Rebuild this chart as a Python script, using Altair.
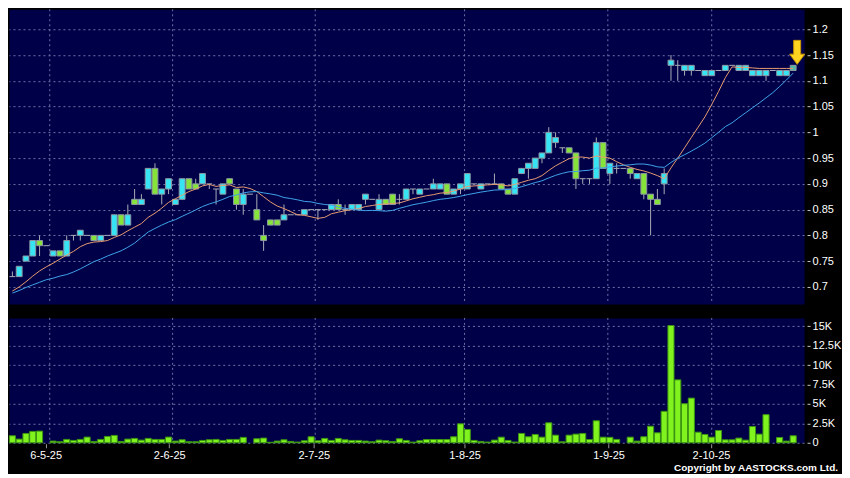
import json
import altair as alt
import numpy as np
import pandas as pd

# ---------------- data ----------------
opens = [0.72, 0.72, 0.75, 0.76, 0.79, 0.78, 0.76, 0.77, 0.76, 0.80,
         0.80, 0.80, 0.80, 0.79, 0.80, 0.80, 0.84, 0.82, 0.87, 0.86,
         0.89, 0.93, 0.88, 0.89, 0.86, 0.87, 0.91, 0.90, 0.90, 0.90,
         0.89, 0.88, 0.91, 0.89, 0.86, 0.88, 0.85, 0.80, 0.83, 0.83,
         0.83, 0.84, 0.84, 0.84, 0.85, 0.85, 0.85, 0.85, 0.86, 0.85,
         0.85, 0.85, 0.87, 0.87, 0.85, 0.87, 0.88, 0.87, 0.87, 0.89,
         0.88, 0.89, 0.89, 0.89, 0.90, 0.88, 0.89, 0.89, 0.90, 0.89,
         0.90, 0.90, 0.90, 0.89, 0.88, 0.92, 0.93, 0.93, 0.95, 0.96,
         0.98, 0.97, 0.97, 0.96, 0.91, 0.91, 0.91, 0.98, 0.92, 0.93,
         0.93, 0.93, 0.91, 0.92, 0.88, 0.87, 0.90, 1.13, 1.13, 1.12,
         1.12, 1.12, 1.11, 1.11, 1.12, 1.12, 1.13, 1.12, 1.12, 1.11,
         1.11, 1.11, 1.12, 1.11, 1.11, 1.12]
closes = [0.72, 0.74, 0.76, 0.79, 0.78, 0.78, 0.77, 0.76, 0.79, 0.80,
          0.81, 0.80, 0.79, 0.80, 0.80, 0.84, 0.82, 0.84, 0.86, 0.87,
          0.93, 0.88, 0.89, 0.91, 0.87, 0.91, 0.89, 0.89, 0.92, 0.90,
          0.89, 0.90, 0.90, 0.86, 0.88, 0.88, 0.83, 0.79, 0.82, 0.82,
          0.84, 0.84, 0.84, 0.85, 0.85, 0.85, 0.85, 0.86, 0.85, 0.85,
          0.86, 0.86, 0.88, 0.87, 0.87, 0.86, 0.86, 0.87, 0.89, 0.89,
          0.89, 0.89, 0.90, 0.90, 0.88, 0.89, 0.90, 0.92, 0.90, 0.90,
          0.90, 0.90, 0.89, 0.88, 0.91, 0.93, 0.94, 0.95, 0.96, 1.00,
          0.99, 0.97, 0.96, 0.91, 0.91, 0.91, 0.98, 0.93, 0.94, 0.93,
          0.93, 0.92, 0.92, 0.88, 0.87, 0.86, 0.92, 1.14, 1.13, 1.13,
          1.13, 1.12, 1.12, 1.12, 1.12, 1.13, 1.13, 1.13, 1.13, 1.12,
          1.12, 1.12, 1.12, 1.12, 1.12, 1.13]
highs = [0.73, 0.74, 0.76, 0.79, 0.80, 0.78, 0.77, 0.77, 0.80, 0.80,
         0.81, 0.80, 0.80, 0.80, 0.80, 0.84, 0.84, 0.86, 0.89, 0.88,
         0.93, 0.94, 0.89, 0.91, 0.87, 0.91, 0.91, 0.91, 0.92, 0.90,
         0.89, 0.90, 0.91, 0.89, 0.89, 0.88, 0.88, 0.82, 0.83, 0.83,
         0.86, 0.84, 0.84, 0.85, 0.85, 0.85, 0.85, 0.86, 0.87, 0.86,
         0.86, 0.86, 0.88, 0.87, 0.88, 0.87, 0.88, 0.88, 0.89, 0.89,
         0.89, 0.89, 0.91, 0.90, 0.90, 0.89, 0.90, 0.92, 0.90, 0.90,
         0.90, 0.92, 0.90, 0.89, 0.91, 0.93, 0.94, 0.95, 0.96, 1.01,
         1.00, 0.97, 0.97, 0.96, 0.91, 0.91, 0.99, 0.98, 0.94, 0.94,
         0.93, 0.93, 0.92, 0.92, 0.88, 0.89, 0.93, 1.15, 1.14, 1.13,
         1.13, 1.12, 1.12, 1.12, 1.12, 1.13, 1.13, 1.13, 1.13, 1.12,
         1.12, 1.12, 1.12, 1.12, 1.12, 1.13]
lows = [0.72, 0.72, 0.75, 0.76, 0.76, 0.78, 0.76, 0.76, 0.76, 0.79,
        0.79, 0.80, 0.79, 0.79, 0.80, 0.80, 0.82, 0.82, 0.86, 0.86,
        0.89, 0.88, 0.86, 0.88, 0.86, 0.87, 0.89, 0.89, 0.90, 0.89,
        0.86, 0.88, 0.90, 0.85, 0.84, 0.88, 0.83, 0.77, 0.82, 0.82,
        0.83, 0.84, 0.84, 0.84, 0.85, 0.83, 0.85, 0.85, 0.85, 0.84,
        0.85, 0.85, 0.86, 0.87, 0.85, 0.86, 0.86, 0.86, 0.87, 0.88,
        0.88, 0.89, 0.89, 0.89, 0.88, 0.88, 0.88, 0.89, 0.90, 0.89,
        0.90, 0.90, 0.89, 0.88, 0.88, 0.92, 0.91, 0.93, 0.94, 0.96,
        0.97, 0.96, 0.96, 0.89, 0.90, 0.90, 0.91, 0.93, 0.90, 0.92,
        0.93, 0.91, 0.91, 0.87, 0.80, 0.86, 0.88, 1.10, 1.10, 1.11,
        1.11, 1.12, 1.11, 1.11, 1.12, 1.12, 1.13, 1.12, 1.12, 1.11,
        1.11, 1.10, 1.12, 1.11, 1.11, 1.12]
volumes = [900, 470, 1200, 1460, 1500, 0, 215, 130, 430, 300,
           430, 730, 170, 430, 815, 945, 170, 470, 560, 340,
           560, 430, 430, 730, 215, 385, 130, 130, 300, 385,
           430, 300, 430, 430, 690, 0, 515, 600, 60, 215,
           385, 170, 85, 260, 770, 260, 560, 300, 560, 385,
           300, 300, 215, 130, 340, 260, 170, 515, 300, 85,
           260, 420, 420, 420, 420, 770, 2440, 1710, 300, 170,
           90, 340, 720, 300, 90, 1200, 770, 1070, 720, 2570,
           980, 125, 980, 1110, 1200, 420, 2830, 720, 700, 430,
           0, 720, 210, 770, 2130, 1280, 4050, 15100, 8100, 5030,
           5750, 1360, 1070, 720, 1580, 380, 380, 600, 340, 2090,
           1110, 3620, 0, 680, 210, 900]
# moving-average values of the first days (depend on earlier, unseen sessions)
ma10_head = [0.692, 0.700, 0.710, 0.721, 0.731, 0.739, 0.746, 0.754, 0.762]
ma20_head = [0.688, 0.693, 0.699, 0.704, 0.709, 0.714, 0.717, 0.721, 0.724, 0.729,
             0.735, 0.742, 0.749, 0.754, 0.760, 0.765, 0.770, 0.777, 0.785]
date_labels = ["6-5-25", "2-6-25", "2-7-25", "1-8-25", "1-9-25", "2-10-25"]
date_ticks = [4.9, 23.1, 44.4, 66.6, 87.8, 102.9]      # session index of each label
date_grid = [5.5, 23.6, 44.6, 66.6, 87.7, 103.0]       # session index of each grid line
price_ticks = [0.7, 0.75, 0.8, 0.85, 0.9, 0.95, 1.0, 1.05, 1.1, 1.15, 1.2]
volume_ticks = [0, 2500, 5000, 7500, 10000, 12500, 15000]
copyright_text = ["Copyright by AASTOCKS.com Ltd."]

# ---------------- table ----------------
n = len(closes)
close_s = pd.Series(closes, dtype=float)
ma10 = close_s.rolling(10).mean().to_numpy()
ma10[:len(ma10_head)] = ma10_head
ma20 = close_s.rolling(20).mean().to_numpy()
ma20[:len(ma20_head)] = ma20_head

direction = []
for k, (o, c) in enumerate(zip(opens, closes)):
    if k == n - 1:
        direction.append("last")
    elif c > o:
        direction.append("up")
    elif c < o:
        direction.append("down")
    else:
        direction.append("flat")

df = pd.DataFrame({
    "i": np.arange(n), "open": opens, "high": highs, "low": lows,
    "close": closes, "vol": volumes, "ma10": np.round(ma10, 4),
    "ma20": np.round(ma20, 4), "dir": direction,
})
grid_df = pd.DataFrame({"p": date_grid})

# ---------------- styles ----------------
FONT = "Liberation Sans"
CYAN, GREEN, TEAL = "#37e4f3", "#86e33a", "#4fb9a8"
BODY_STROKE, WICK = "#8d98a4", "#a9acb6"
MA10_C, MA20_C = "#e89c70", "#3fa3e8"
GRID = "#6a72a8"
VOL_FILL, VOL_STROKE = "#80f21e", "#3c9612"
W = 796
H_PRICE, H_VOL, GAP = 295, 125, 12
xscale = alt.Scale(domain=[-0.5, n + 0.6], nice=False, zero=False)
pscale = alt.Scale(domain=[0.667, 1.2388], nice=False, zero=False)
vscale = alt.Scale(domain=[0, 16080], nice=False)

axis_common = dict(
    labelColor="#ffffff", labelFont=FONT, labelFontSize=11, domain=False,
    tickColor="#c8c8c8", title=None,
)
y_price_axis = alt.Axis(
    orient="right", values=price_ticks, format=".2~f", grid=True,
    gridColor=GRID, gridDash=[2, 3], gridWidth=1, tickSize=3, offset=3,
    labelPadding=2, **axis_common,
)
y_vol_axis = alt.Axis(
    orient="right", values=volume_ticks, grid=True, gridColor=GRID,
    gridDash=[2, 3], gridWidth=1, tickSize=3, offset=3, labelPadding=2,
    labelExpr="datum.value == 0 ? '0' : format(datum.value / 1000, '~g') + 'K'",
    **axis_common,
)
x_axis = alt.Axis(
    values=date_ticks, grid=False, tickSize=4, offset=1, labelPadding=2,
    labelExpr=f"{json.dumps(date_labels)}[indexof({json.dumps(date_ticks)}, datum.value)]",
    labelColor="#ffffff", labelFont=FONT, labelFontSize=11, domain=False,
    tickColor="#9a9a9a", title=None,
)

base = alt.Chart(df).transform_calculate(
    xl="datum.i - 0.43", xr="datum.i + 0.43", vl="datum.i - 0.45", vr="datum.i + 0.45",
    zero="0",
)

def py(field):
    return alt.Y(field, type="quantitative", scale=pscale, axis=y_price_axis)

# ---------------- price panel ----------------
vgrid_p = alt.Chart(grid_df).mark_rule(color=GRID, strokeDash=[2, 3], strokeWidth=1).encode(
    x=alt.X("p:Q", scale=xscale, axis=None)
)
wicks = base.mark_rule(color=WICK, strokeWidth=1).encode(
    x=alt.X("i:Q", scale=xscale, axis=None), y=py("low"), y2="high:Q"
)
bodies = base.transform_filter("datum.open != datum.close").mark_rect(
    stroke=BODY_STROKE, strokeWidth=1
).encode(
    x=alt.X("xl:Q", scale=xscale, axis=None), x2="xr:Q",
    y=py("open"), y2="close:Q",
    color=alt.Color("dir:N", scale=alt.Scale(domain=["up", "down", "last"],
                                             range=[CYAN, GREEN, TEAL]), legend=None),
)
dojis = base.transform_filter("datum.open == datum.close").mark_rule(
    color=WICK, strokeWidth=1
).encode(
    x=alt.X("xl:Q", scale=xscale, axis=None), x2="xr:Q", y=py("open")
)
line10 = base.mark_line(color=MA10_C, strokeWidth=1).encode(
    x=alt.X("i:Q", scale=xscale, axis=None), y=py("ma10")
)
line20 = base.mark_line(color=MA20_C, strokeWidth=1).encode(
    x=alt.X("i:Q", scale=xscale, axis=None), y=py("ma20")
)
ARROW = "M -0.29 -1 L 0.29 -1 L 0.29 0.15 L 0.63 0.15 L 0 1 L -0.63 0.15 L -0.29 0.15 Z"
arrow = base.transform_filter(f"datum.i == {n - 1}").mark_point(
    shape=ARROW, size=576, filled=True, color="#ffd420", stroke="#c99500",
    strokeWidth=1, opacity=1, yOffset=-13, xOffset=4,
).encode(x=alt.X("i:Q", scale=xscale, axis=None), y=py("high"))

price = alt.layer(vgrid_p, wicks, bodies, dojis, line10, line20, arrow).properties(
    width=W, height=H_PRICE
)

# ---------------- volume panel ----------------
vgrid_v = alt.Chart(grid_df).mark_rule(color=GRID, strokeDash=[2, 3], strokeWidth=1).encode(
    x=alt.X("p:Q", scale=xscale, axis=x_axis)
)
bars = base.transform_filter("datum.vol > 0").mark_rect(
    color=VOL_FILL, stroke=VOL_STROKE, strokeWidth=1
).encode(
    x=alt.X("vl:Q", scale=xscale, axis=x_axis), x2="vr:Q",
    y=alt.Y("vol:Q", scale=vscale, axis=y_vol_axis), y2="zero:Q",
)
copyright_mark = alt.Chart(pd.DataFrame({"t": copyright_text})).mark_text(
    align="right", baseline="alphabetic", font=FONT, fontSize=10,
    fontWeight="bold", color="#ffffff",
).encode(text="t:N", x=alt.value(W + 34), y=alt.value(H_VOL + 28))

volume = alt.layer(vgrid_v, bars, copyright_mark).properties(width=W, height=H_VOL)

chart = alt.vconcat(price, volume, spacing=GAP).properties(
    padding={"left": 0, "top": 0, "right": 0, "bottom": 0},
    background="#000000",
).configure_view(fill="#000048", stroke="transparent")

chart.save("out.html", embed_options={"renderer": "svg", "actions": False})
